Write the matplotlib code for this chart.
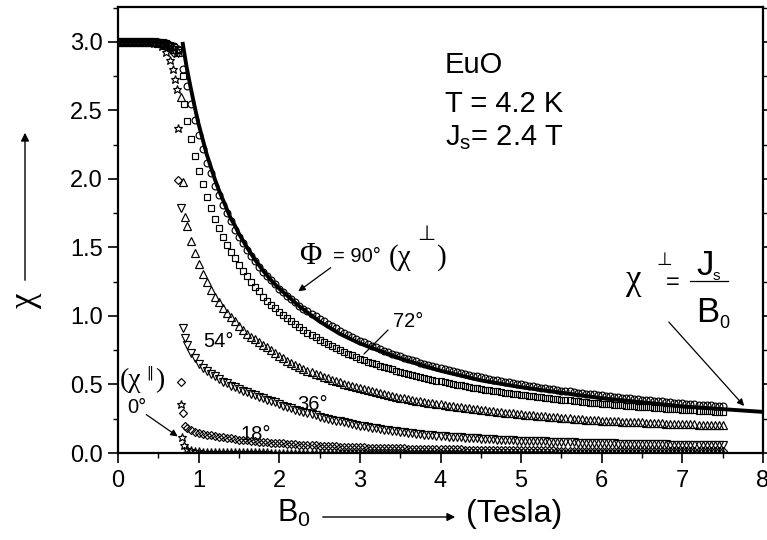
import numpy as np
import matplotlib
matplotlib.use("Agg")
import matplotlib.pyplot as plt
from matplotlib.lines import Line2D

plt.rcParams['font.family'] = ['Liberation Sans', 'DejaVu Sans']

# ---------------- data ----------------
B_PLATEAU = [0.0, 0.05, 0.1, 0.15, 0.2, 0.25, 0.3, 0.35, 0.4, 0.45, 0.5, 0.55, 0.6, 0.65, 0.7, 0.75]

plat_90 = [3.0, 3.0, 3.0, 3.0, 3.0, 3.0, 3.0, 3.0, 3.0, 3.0, 3.0, 2.995, 2.99, 2.98, 2.97, 2.95]
plat_72 = [3.0, 3.0, 3.0, 3.0, 3.0, 3.0, 3.0, 3.0, 3.0, 3.0, 3.0, 2.995, 2.99, 2.98, 2.96, 2.94]
plat_54 = [3.0, 3.0, 3.0, 3.0, 3.0, 3.0, 3.0, 3.0, 3.0, 3.0, 2.995, 2.99, 2.98, 2.97, 2.95, 2.93]
plat_36 = [3.0, 3.0, 3.0, 3.0, 3.0, 3.0, 3.0, 3.0, 3.0, 3.0, 2.995, 2.99, 2.98, 2.96, 2.94, 2.92]
plat_18 = [3.0, 3.0, 3.0, 3.0, 3.0, 3.0, 3.0, 3.0, 3.0, 2.995, 2.99, 2.98, 2.97, 2.95, 2.92]
plat_00 = [3.0, 3.0, 3.0, 3.0, 3.0, 3.0, 3.0, 3.0, 3.0, 2.995, 2.99, 2.97, 2.93, 2.87]

# transition points near saturation (B0 ~ 0.8 T)
tr_b_90 = [0.8]
tr_c_90 = [2.80]
tr_b_72 = [0.8, 0.82]
tr_c_72 = [2.75, 2.55]
tr_b_54 = [0.78, 0.81, 0.83]
tr_c_54 = [2.60, 1.98, 1.72]
tr_b_36 = [0.78, 0.81, 0.83]
tr_c_36 = [1.79, 0.91, 0.84]
tr_b_18 = [0.745, 0.78, 0.81, 0.83]
tr_c_18 = [1.99, 0.52, 0.29, 0.20]
tr_b_00 = [0.68, 0.71, 0.73, 0.745, 0.78, 0.79, 0.82]
tr_c_00 = [2.80, 2.73, 2.66, 2.37, 0.36, 0.12, 0.06]

# field values of the dense tail (0.85 ... 7.5 T, every 0.05 T)
B_TAIL = [0.85, 0.9, 0.95, 1.0, 1.05, 1.1, 1.15, 1.2, 1.25, 1.3, 1.35, 1.4, 1.45, 1.5,
          1.55, 1.6, 1.65, 1.7, 1.75, 1.8, 1.85, 1.9, 1.95, 2.0,
          2.05, 2.1, 2.15, 2.2, 2.25, 2.3, 2.35, 2.4, 2.45, 2.5, 2.55, 2.6, 2.65, 2.7, 2.75, 2.8, 2.85, 2.9, 2.95, 3.0,
          3.05, 3.1, 3.15, 3.2, 3.25, 3.3, 3.35, 3.4, 3.45, 3.5, 3.55, 3.6, 3.65, 3.7, 3.75, 3.8, 3.85, 3.9, 3.95, 4.0,
          4.05, 4.1, 4.15, 4.2, 4.25, 4.3, 4.35, 4.4, 4.45, 4.5, 4.55, 4.6, 4.65, 4.7, 4.75, 4.8, 4.85, 4.9, 4.95, 5.0,
          5.05, 5.1, 5.15, 5.2, 5.25, 5.3, 5.35, 5.4, 5.45, 5.5, 5.55, 5.6, 5.65, 5.7, 5.75, 5.8, 5.85, 5.9, 5.95, 6.0,
          6.05, 6.1, 6.15, 6.2, 6.25, 6.3, 6.35, 6.4, 6.45, 6.5, 6.55, 6.6, 6.65, 6.7, 6.75, 6.8, 6.85, 6.9, 6.95, 7.0,
          7.05, 7.1, 7.15, 7.2, 7.25, 7.3, 7.35, 7.4, 7.45, 7.5]

tail_90 = [2.68, 2.55, 2.43, 2.32, 2.22, 2.12, 2.04, 1.95, 1.88, 1.81, 1.75, 1.69, 1.63, 1.58,
           1.53, 1.48, 1.44, 1.40, 1.36, 1.32, 1.29, 1.26, 1.23, 1.20,
           1.175, 1.148, 1.123, 1.099, 1.076, 1.054, 1.033, 1.013, 0.998, 0.980, 0.961, 0.943, 0.926, 0.909, 0.893, 0.877, 0.862, 0.848, 0.834, 0.820,
           0.807, 0.794, 0.782, 0.770, 0.758, 0.747, 0.736, 0.726, 0.716, 0.706, 0.696, 0.687, 0.678, 0.669, 0.660, 0.652, 0.643, 0.635, 0.628, 0.620,
           0.613, 0.605, 0.598, 0.591, 0.585, 0.578, 0.572, 0.565, 0.559, 0.553, 0.547, 0.542, 0.536, 0.531, 0.525, 0.520, 0.515, 0.510, 0.505, 0.500,
           0.495, 0.491, 0.486, 0.482, 0.477, 0.473, 0.469, 0.464, 0.460, 0.456, 0.452, 0.449, 0.445, 0.441, 0.437, 0.434, 0.430, 0.427, 0.423, 0.420,
           0.417, 0.413, 0.410, 0.407, 0.404, 0.401, 0.398, 0.395, 0.392, 0.389, 0.386, 0.384, 0.381, 0.378, 0.376, 0.373, 0.370, 0.368, 0.365, 0.363,
           0.360, 0.358, 0.356, 0.353, 0.351, 0.349, 0.347, 0.344, 0.342, 0.340]
tail_72 = [2.42, 2.29, 2.17, 2.06, 1.96, 1.87, 1.79, 1.71, 1.64, 1.58, 1.52, 1.47, 1.42, 1.37,
           1.33, 1.29, 1.25, 1.21, 1.18, 1.14, 1.11, 1.08, 1.06, 1.03,
           1.007, 0.983, 0.960, 0.938, 0.918, 0.897, 0.878, 0.860, 0.843, 0.826, 0.809, 0.794, 0.779, 0.765, 0.751, 0.737, 0.724, 0.712, 0.700, 0.688,
           0.678, 0.667, 0.657, 0.647, 0.637, 0.627, 0.619, 0.610, 0.602, 0.593, 0.585, 0.578, 0.570, 0.563, 0.556, 0.549, 0.541, 0.534, 0.529, 0.522,
           0.517, 0.510, 0.504, 0.498, 0.494, 0.488, 0.483, 0.477, 0.473, 0.468, 0.463, 0.459, 0.454, 0.450, 0.445, 0.441, 0.437, 0.433, 0.429, 0.425,
           0.421, 0.417, 0.413, 0.410, 0.406, 0.403, 0.400, 0.396, 0.392, 0.389, 0.386, 0.384, 0.380, 0.377, 0.374, 0.371, 0.368, 0.365, 0.362, 0.360,
           0.358, 0.354, 0.353, 0.350, 0.348, 0.346, 0.343, 0.341, 0.339, 0.337, 0.334, 0.333, 0.330, 0.328, 0.326, 0.324, 0.322, 0.321, 0.318, 0.317,
           0.314, 0.313, 0.311, 0.309, 0.308, 0.306, 0.304, 0.302, 0.300, 0.299]
tail_54 = [1.66, 1.55, 1.46, 1.38, 1.31, 1.25, 1.19, 1.14, 1.10, 1.06, 1.02, 0.99, 0.96, 0.93,
           0.90, 0.87, 0.85, 0.83, 0.81, 0.79, 0.77, 0.75, 0.73, 0.71,
           0.691, 0.674, 0.658, 0.644, 0.630, 0.615, 0.602, 0.590, 0.578, 0.566, 0.555, 0.545, 0.535, 0.525, 0.515, 0.506, 0.497, 0.489, 0.480, 0.472,
           0.464, 0.457, 0.450, 0.443, 0.435, 0.429, 0.422, 0.417, 0.411, 0.405, 0.399, 0.394, 0.388, 0.383, 0.378, 0.373, 0.368, 0.363, 0.359, 0.354,
           0.350, 0.345, 0.341, 0.337, 0.333, 0.329, 0.326, 0.322, 0.318, 0.314, 0.311, 0.308, 0.304, 0.301, 0.298, 0.295, 0.292, 0.289, 0.286, 0.283,
           0.280, 0.278, 0.275, 0.273, 0.270, 0.267, 0.265, 0.262, 0.260, 0.257, 0.255, 0.253, 0.251, 0.248, 0.246, 0.244, 0.242, 0.240, 0.238, 0.236,
           0.234, 0.233, 0.231, 0.230, 0.229, 0.228, 0.226, 0.225, 0.224, 0.223, 0.221, 0.220, 0.219, 0.217, 0.216, 0.215, 0.214, 0.213, 0.212, 0.211,
           0.210, 0.209, 0.208, 0.207, 0.206, 0.205, 0.204, 0.203, 0.202, 0.201]
tail_36 = [0.79, 0.73, 0.69, 0.65, 0.62, 0.60, 0.58, 0.56, 0.54, 0.52, 0.51, 0.49, 0.48, 0.465,
           0.455, 0.445, 0.43, 0.42, 0.41, 0.40, 0.39, 0.38, 0.37, 0.36,
           0.345, 0.335, 0.325, 0.316, 0.307, 0.298, 0.290, 0.282, 0.274, 0.266, 0.258, 0.251, 0.244, 0.237, 0.230, 0.224, 0.218, 0.212, 0.206, 0.200,
           0.195, 0.190, 0.185, 0.180, 0.175, 0.170, 0.166, 0.162, 0.158, 0.154, 0.150, 0.147, 0.144, 0.141, 0.138, 0.135, 0.132, 0.129, 0.127, 0.124,
           0.122, 0.120, 0.118, 0.116, 0.114, 0.112, 0.110, 0.108, 0.106, 0.105, 0.103, 0.101, 0.100, 0.098, 0.097, 0.095, 0.094, 0.093, 0.091, 0.090,
           0.089, 0.088, 0.087, 0.086, 0.085, 0.084, 0.083, 0.082, 0.081, 0.080, 0.079, 0.078, 0.077, 0.076, 0.076, 0.075, 0.074, 0.073, 0.073, 0.072,
           0.071, 0.071, 0.070, 0.069, 0.069, 0.068, 0.067, 0.067, 0.066, 0.066, 0.065, 0.065, 0.064, 0.064, 0.063, 0.063, 0.062, 0.062, 0.061, 0.061,
           0.060, 0.060, 0.059, 0.059, 0.058, 0.058, 0.057, 0.057, 0.056, 0.056]
tail_18 = [0.18, 0.165, 0.155, 0.147, 0.14, 0.134, 0.128, 0.123, 0.118, 0.114, 0.11, 0.106, 0.102, 0.098,
           0.095, 0.092, 0.089, 0.086, 0.083, 0.08, 0.078, 0.076, 0.074, 0.072,
           0.070, 0.068, 0.066, 0.064, 0.062, 0.060, 0.058, 0.057, 0.055, 0.054, 0.052, 0.051, 0.050, 0.048, 0.047, 0.046, 0.045, 0.044, 0.043, 0.042,
           0.041, 0.040, 0.039, 0.038, 0.037, 0.036, 0.036, 0.035, 0.034, 0.033, 0.033, 0.032, 0.032, 0.031, 0.031, 0.030, 0.030, 0.029, 0.029, 0.028,
           0.028, 0.027, 0.027, 0.026, 0.026, 0.025, 0.025, 0.025, 0.024, 0.024, 0.023, 0.023, 0.023, 0.022, 0.022, 0.022, 0.021, 0.021, 0.021, 0.021,
           0.020, 0.020, 0.020, 0.020, 0.019, 0.019, 0.019, 0.019, 0.018, 0.018, 0.018, 0.018, 0.018, 0.017, 0.017, 0.017, 0.017, 0.017, 0.016, 0.016,
           0.016, 0.016, 0.016, 0.016, 0.015, 0.015, 0.015, 0.015, 0.015, 0.015, 0.014, 0.014, 0.014, 0.014, 0.014, 0.014, 0.014, 0.013, 0.013, 0.013,
           0.013, 0.013, 0.013, 0.013, 0.013, 0.012, 0.012, 0.012, 0.012, 0.012]
tail_00 = [0.03, 0.02, 0.015, 0.012, 0.01, 0.01, 0.008, 0.008, 0.007, 0.007, 0.006, 0.006, 0.005, 0.005,
           0.005, 0.005, 0.004, 0.004, 0.004, 0.004, 0.004, 0.003, 0.003, 0.003,
           0.003, 0.003, 0.003, 0.003, 0.003, 0.003, 0.003, 0.003, 0.003, 0.003, 0.003, 0.003, 0.003, 0.003, 0.003, 0.003, 0.003, 0.003, 0.003, 0.003,
           0.002, 0.002, 0.002, 0.002, 0.002, 0.002, 0.002, 0.002, 0.002, 0.002, 0.002, 0.002, 0.002, 0.002, 0.002, 0.002, 0.002, 0.002, 0.002, 0.002,
           0.002, 0.002, 0.002, 0.002, 0.002, 0.002, 0.002, 0.002, 0.002, 0.002, 0.002, 0.002, 0.002, 0.002, 0.002, 0.002, 0.002, 0.002, 0.002, 0.002,
           0.001, 0.001, 0.001, 0.001, 0.001, 0.001, 0.001, 0.001, 0.001, 0.001, 0.001, 0.001, 0.001, 0.001, 0.001, 0.001, 0.001, 0.001, 0.001, 0.001,
           0.001, 0.001, 0.001, 0.001, 0.001, 0.001, 0.001, 0.001, 0.001, 0.001, 0.001, 0.001, 0.001, 0.001, 0.001, 0.001, 0.001, 0.001, 0.001, 0.001,
           0.001, 0.001, 0.001, 0.001, 0.001, 0.001, 0.001, 0.001, 0.001, 0.001]

# theory line chi_perp = Js / B0
B_LINE = [0.8, 0.85, 0.9, 0.95, 1.0, 1.05, 1.1, 1.15, 1.2, 1.25, 1.3, 1.35, 1.4, 1.45, 1.5, 1.6, 1.7,
          1.8, 1.9, 2.0, 2.25, 2.5, 2.75, 3.0, 3.5, 4.0, 4.5, 5.0, 5.5, 6.0, 6.5, 7.0, 7.5, 8.0]
CHI_LINE = [3.0, 2.82, 2.67, 2.53, 2.40, 2.29, 2.18, 2.09, 2.00, 1.92, 1.85, 1.78, 1.71, 1.66, 1.60, 1.50, 1.41,
            1.33, 1.26, 1.20, 1.07, 0.96, 0.87, 0.80, 0.69, 0.60, 0.53, 0.48, 0.44, 0.40, 0.37, 0.34, 0.32, 0.30]

X_TICKS = [0, 1, 2, 3, 4, 5, 6, 7, 8]
Y_TICKS = [0.0, 0.5, 1.0, 1.5, 2.0, 2.5, 3.0]
Y_TICKLABELS = ['0.0', '0.5', '1.0', '1.5', '2.0', '2.5', '3.0']

# ---------------- figure ----------------
W, H = 767, 540
fig = plt.figure(figsize=(W / 100, H / 100), dpi=100)
L, R, T, Bt = 118, 763, 7, 453
ax = fig.add_axes([L / W, 1 - Bt / H, (R - L) / W, (Bt - T) / H])
ax.set_xlim(0, 8)
ax.set_ylim(0, 3.255)


def series(plat_b, plat_c, tb, tc, tail):
    b = list(plat_b[:len(plat_c)]) + list(tb) + list(B_TAIL)
    c = list(plat_c) + list(tc) + list(tail)
    return b, c


specs = [
    (plat_00, tr_b_00, tr_c_00, tail_00, '*', 6.3),
    (plat_18, tr_b_18, tr_c_18, tail_18, 'D', 4.5),
    (plat_36, tr_b_36, tr_c_36, tail_36, 'v', 5.6),
    (plat_54, tr_b_54, tr_c_54, tail_54, '^', 5.6),
    (plat_72, tr_b_72, tr_c_72, tail_72, 's', 4.9),
    (plat_90, tr_b_90, tr_c_90, tail_90, 'o', 4.9),
]
for pc, tb, tc, tl, mk, ms in specs:
    b, c = series(B_PLATEAU, pc, tb, tc, tl)
    ax.plot(b, c, linestyle='none', marker=mk, ms=ms, mfc='none', mec='black', mew=0.85, zorder=3)

ax.plot(B_LINE, CHI_LINE, color='black', lw=2.8, zorder=4, solid_capstyle='butt')

ax.set_xticks(X_TICKS)
ax.set_xticklabels([str(t) for t in X_TICKS])
ax.set_yticks(Y_TICKS)
ax.set_yticklabels(Y_TICKLABELS)
ax.set_xticks(np.arange(0.5, 8, 1.0), minor=True)
ax.set_yticks([0.25, 0.75, 1.25, 1.75, 2.25, 2.75, 3.25], minor=True)
ax.tick_params(which='major', direction='out', length=7, width=1.2, labelsize=17,
               top=False, right=True, pad=4)
ax.tick_params(which='minor', direction='out', length=3.5, width=1.0, top=False, right=True)
ax.tick_params(axis='x', which='major', pad=5)
for s in ax.spines.values():
    s.set_linewidth(1.6)


def fp(x, y):
    return (x, H - y)


def ftext(x, y, s, size, **kw):
    fig.text(x / W, 1 - y / H, s, fontsize=size, va='baseline', **kw)


SERIF = ['Liberation Serif', 'DejaVu Serif']
SYM = ['DejaVu Sans']

# sample info
ftext(445, 73, 'EuO', 21)
ftext(445, 112, 'T = 4.2 K', 21)
ftext(445, 145, r'J$_\mathregular{s}$= 2.4 T', 21)

# axis labels
fig.text(25 / W, 1 - 300 / H, 'χ', fontsize=25, family=SERIF, rotation=90, ha='center', va='center')
ax.annotate('', xy=fp(25, 130), xytext=fp(25, 283), xycoords='figure pixels', textcoords='figure pixels',
            arrowprops=dict(arrowstyle='-|>', color='black', lw=1.0, mutation_scale=12))
ftext(277, 522, r'B$_\mathregular{0}$', 22)
ax.annotate('', xy=fp(458, 517), xytext=fp(320, 517), xycoords='figure pixels', textcoords='figure pixels',
            arrowprops=dict(arrowstyle='-|>', color='black', lw=1.0, mutation_scale=12))
ftext(466, 522, '(Tesla)', 23)

# Phi = 90 deg annotation
ftext(299, 264, 'Φ', 22, family=SERIF)
ftext(333, 262, '= 90°', 14.5)
ftext(389, 265, '(χ', 21, family=SERIF)
ftext(417, 240, '⊥', 15, family=SYM)
ftext(437, 265, ')', 21, family=SERIF)
ax.annotate('', xy=fp(296, 293), xytext=fp(333, 266), xycoords='figure pixels', textcoords='figure pixels',
            arrowprops=dict(arrowstyle='-|>', color='black', lw=0.9, mutation_scale=10))

# angle labels
ftext(393, 327, '72°', 14.5)
ax.annotate('', xy=fp(362, 356), xytext=fp(390, 328), xycoords='figure pixels', textcoords='figure pixels',
            arrowprops=dict(arrowstyle='-', color='black', lw=0.9))
ftext(203, 347, '54°', 14.5)
ftext(297, 410, '36°', 14.5)
ftext(240, 440, '18°', 14.5)
ftext(127, 413, '0°', 14.5)
ax.annotate('', xy=fp(180, 438), xytext=fp(144, 413), xycoords='figure pixels', textcoords='figure pixels',
            arrowprops=dict(arrowstyle='-|>', color='black', lw=0.9, mutation_scale=10))
ftext(120, 387, '(χ', 20, family=SERIF)
ftext(146, 377, '‖', 10, family=SYM)
ftext(155, 387, ')', 20, family=SERIF)

# chi_perp = Js / B0
ftext(626, 289, 'χ', 25, family=SERIF)
ftext(656, 265, '⊥', 13, family=SYM)
ftext(666, 289, '=', 17)
ftext(696, 275, 'J', 25)
ftext(713, 280, 's', 11)
fig.add_artist(Line2D([690 / W, 728 / W], [1 - 281 / H, 1 - 281 / H], color='black', lw=0.9))
ftext(696, 322, 'B', 25)
ftext(719, 328, '0', 13)
ax.annotate('', xy=fp(746, 408), xytext=fp(667, 320), xycoords='figure pixels', textcoords='figure pixels',
            arrowprops=dict(arrowstyle='-|>', color='black', lw=0.9, mutation_scale=10))

fig.savefig('out.png', dpi=100)
